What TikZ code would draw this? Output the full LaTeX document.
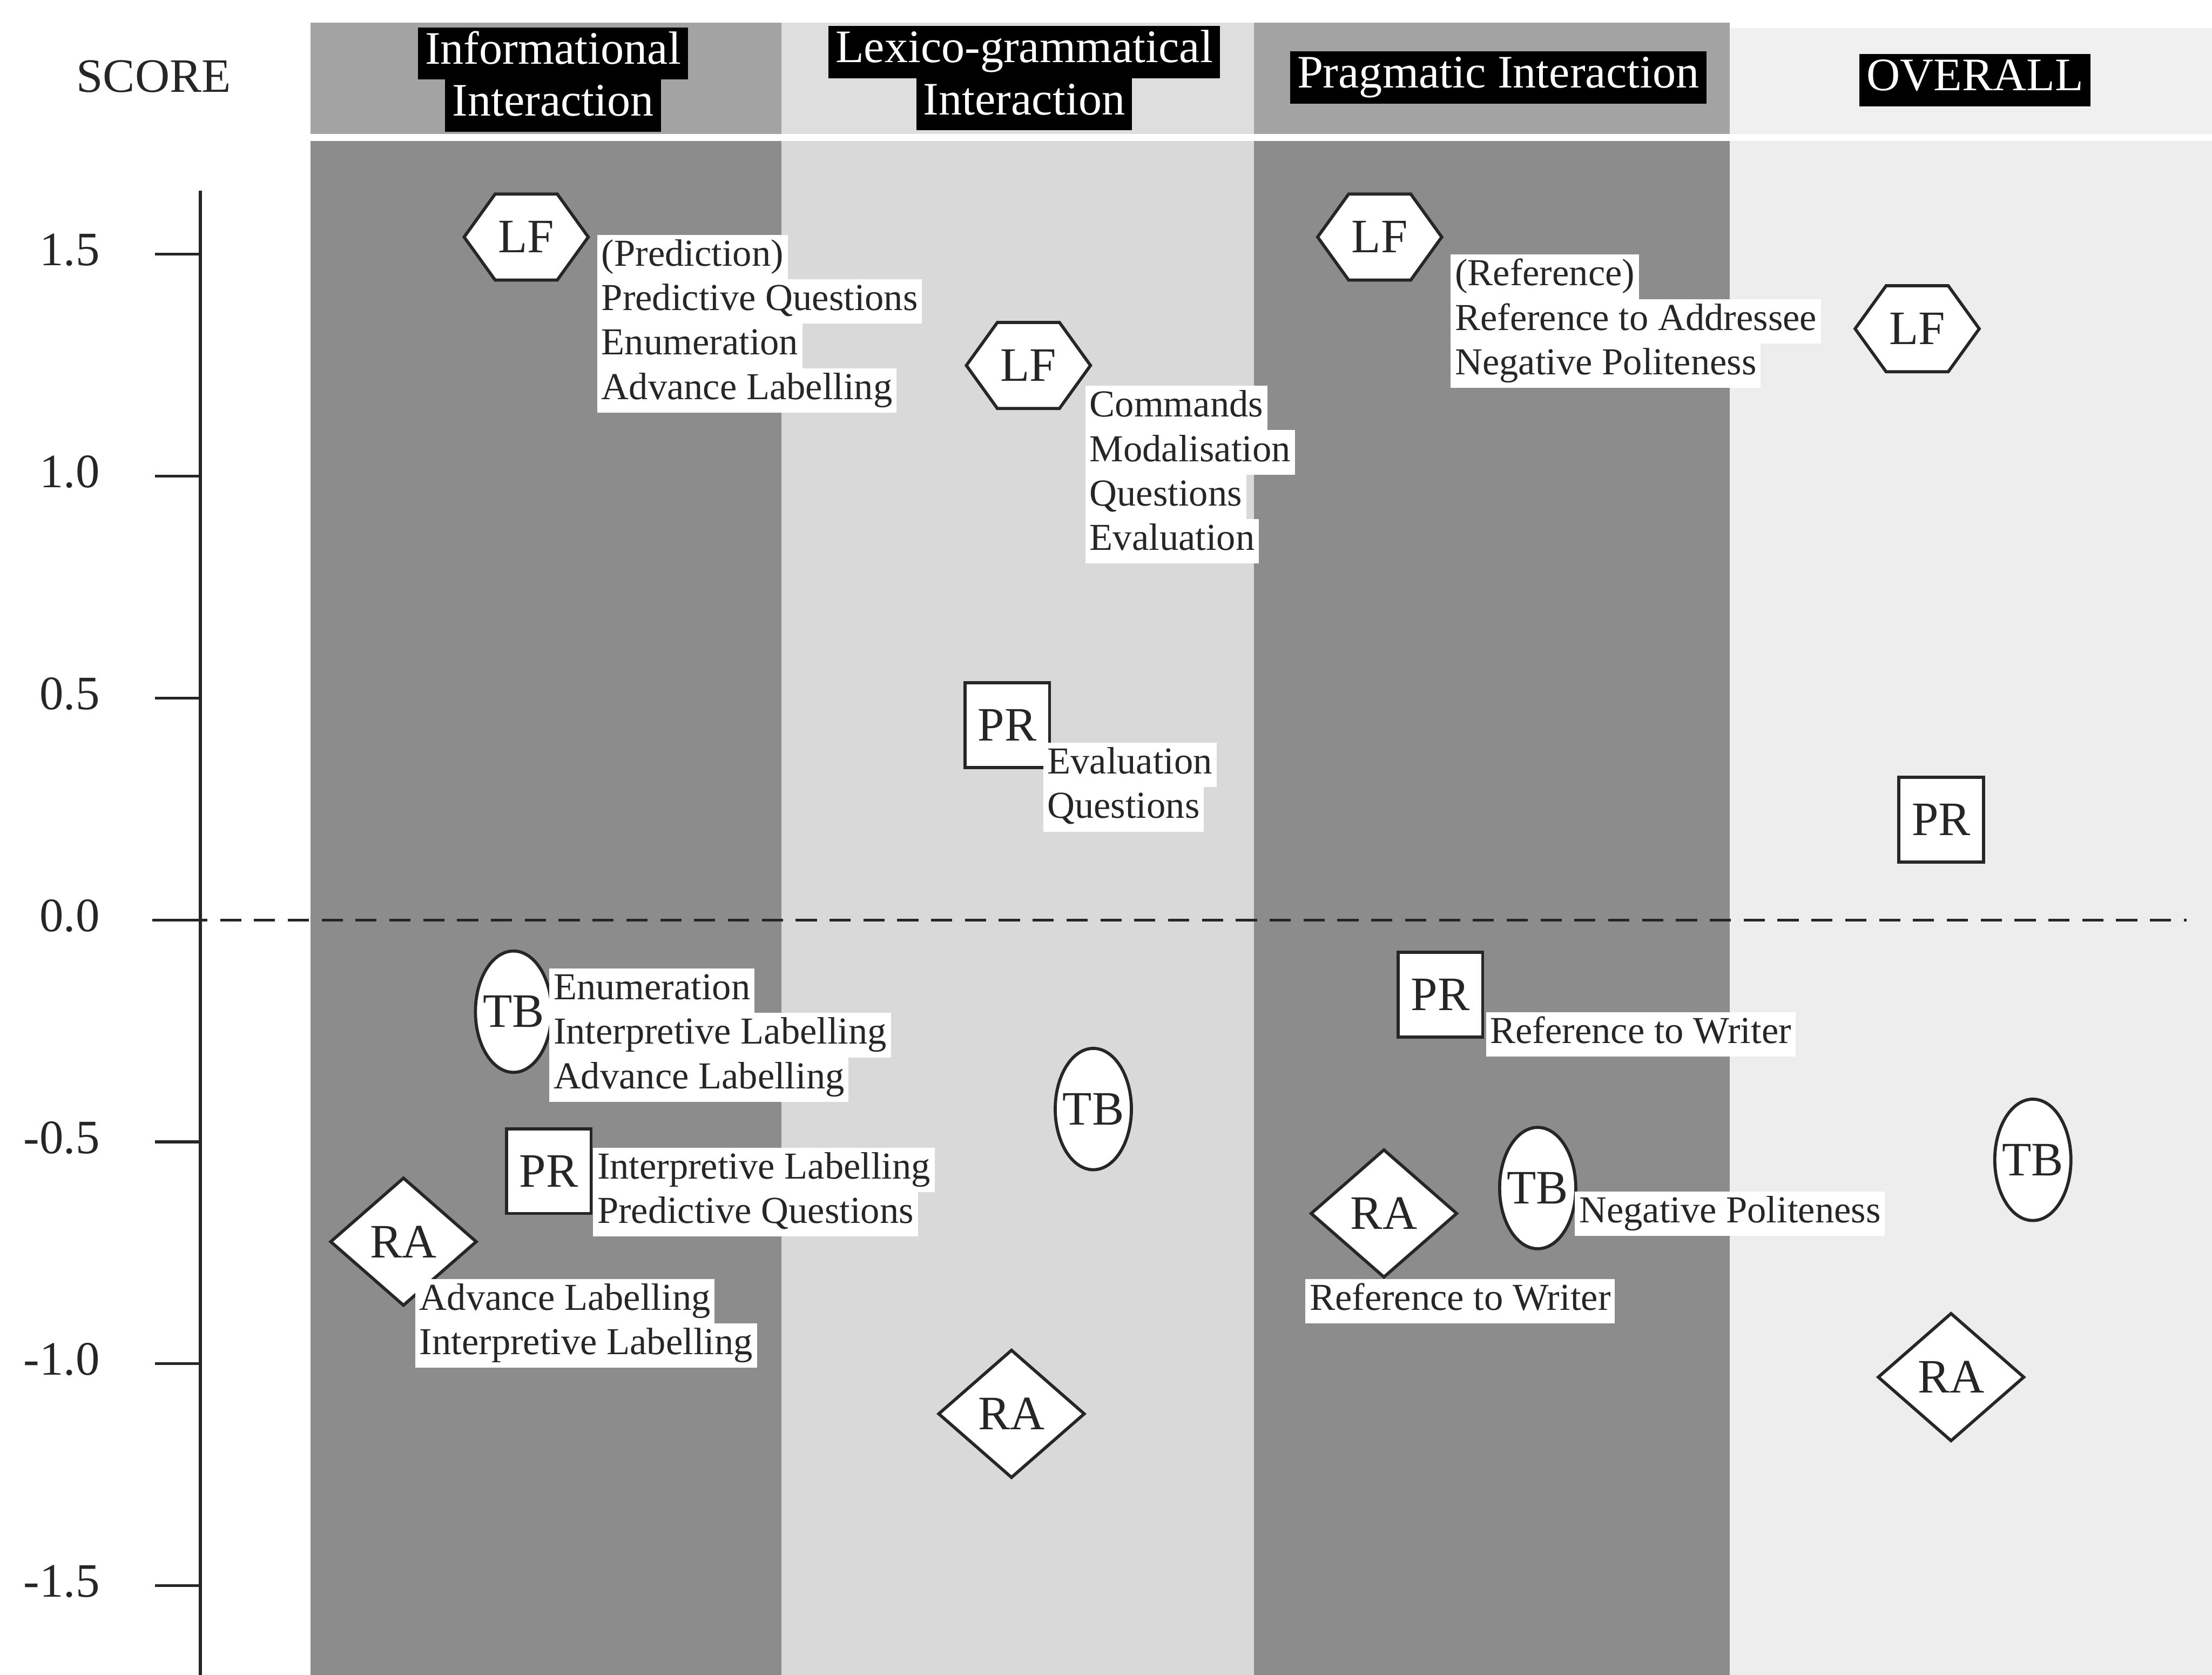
\documentclass[tikz,border=0pt]{standalone}
\usepackage{fontspec}
\setmainfont{Liberation Serif}
\usetikzlibrary{shapes.geometric}

\definecolor{banddark}{gray}{0.55}
\definecolor{banddarkhead}{gray}{0.64}
\definecolor{bandlight}{gray}{0.85}
\definecolor{bandlighthead}{gray}{0.87}
\definecolor{bandpale}{gray}{0.93}
\definecolor{bandpalehead}{gray}{0.94}
\definecolor{ink}{gray}{0.15}

% one line of note text on its own white strip
\newcommand\wl[1]{{\setlength\fboxsep{0pt}\colorbox{white}{\strut\hspace{1.5pt}#1\hspace{1.5pt}}}}
% one line of heading text, white on a black strip
\newcommand\bl[1]{{\setlength\fboxsep{0pt}\colorbox{black}{\strut\hspace{2.5pt}\textcolor{white}{#1}\hspace{2.5pt}}}}

% hexagon with pointed left and right ends: name, x, y, text
\newcommand\hexat[4]{%
  \filldraw[shapeline] (#2,#3) ++(-44,0) -- ++(22,-30.5) -- ++(44,0) -- ++(22,30.5)
    -- ++(-22,30.5) -- ++(-44,0) -- cycle;
  \node[symtext] (#1) at (#2,#3) {#4};}
% upright ellipse: name, x, y, text
\newcommand\ellat[4]{%
  \filldraw[shapeline] (#2,#3) ellipse [x radius=13.5pt, y radius=21.5pt];
  \node[symtext] (#1) at (#2,#3) {#4};}

\begin{document}
\begin{tikzpicture}[x=0.5pt,y=-0.5pt,
  shapeline/.style={draw=ink, fill=white, line width=1.1pt},
  symtext/.style={font=\fontsize{17}{20}\selectfont, text=ink, inner sep=0pt},
  squarebox/.style={shapeline, symtext, rectangle, minimum width=30pt, minimum height=30pt},
  diamondbox/.style={shapeline, symtext, diamond, minimum width=52pt, minimum height=45.5pt},
  notes/.style={anchor=north west, inner sep=0pt, align=left, text=ink,
    font=\fontsize{13.5}{15.75}\selectfont},
  headtext/.style={anchor=north, inner sep=0pt, align=center,
    font=\fontsize{16.5}{18.5}\selectfont},
  ticklabel/.style={anchor=east, inner sep=0pt, text=ink, font=\fontsize{17}{20}\selectfont},
  axisline/.style={draw=ink, line width=1pt},
]
\useasboundingbox (0,0) rectangle (1568,1187);
\fill[white] (0,0) rectangle (1568,1187);

% ---- column bands (heading strip, white gap, body) ----
\fill[banddarkhead]  (220,16)  rectangle (554,95);
\fill[banddark]      (220,100) rectangle (554,1187);
\fill[bandlighthead] (554,16)  rectangle (889,95);
\fill[bandlight]     (554,100) rectangle (889,1187);
\fill[banddarkhead]  (889,16)  rectangle (1226,95);
\fill[banddark]      (889,100) rectangle (1226,1187);
\fill[bandpalehead]  (1226,20) rectangle (1568,95);
\fill[bandpale]      (1226,100) rectangle (1568,1187);

% ---- column headings ----
\node[headtext] (hinfo) at (392,19)  {\bl{Informational}\\\bl{Interaction}};
\node[headtext] (hlex)  at (726,18)  {\bl{Lexico-grammatical}\\\bl{Interaction}};
\node[headtext] (hprag) at (1062,36) {\bl{Pragmatic Interaction}};
\node[headtext] (hall)  at (1400,38) {\bl{OVERALL}};

% ---- score axis ----
\node[ticklabel, anchor=center] (score) at (109,54) {SCORE};
\coordinate (axtop) at (142,135);
\coordinate (axbot) at (142,1187);
\draw[axisline] (axtop) -- (axbot);
\foreach \lab/\yy [count=\i] in {1.5/180.25, 1.0/337.5, 0.5/494.75, 0.0/652,
    -0.5/809.25, -1.0/966.5, -1.5/1123.75} {
  \draw[axisline] (110,\yy) -- (142,\yy);
  \node[ticklabel] (tick\i) at (71,\yy-3) {\lab};
}

% zero line
\coordinate (zl) at (108,652);
\coordinate (zr) at (1550,652);
\draw[draw=ink, line width=1pt, dash pattern=on 7.5pt off 4.5pt] (zl) -- (zr);

% ---- Informational Interaction ----
\hexat{lfinfo}{373}{168}{LF}
\ellat{tbinfo}{364}{717}{TB}
\node[squarebox]  (prinfo) at (389,830) {PR};
\node[diamondbox] (rainfo) at (286,880) {RA};

% ---- Lexico-grammatical Interaction ----
\hexat{lflex}{729}{259}{LF}
\node[squarebox]  (prlex) at (714,514) {PR};
\ellat{tblex}{775}{786}{TB}
\node[diamondbox] (ralex) at (717,1002) {RA};

% ---- Pragmatic Interaction ----
\hexat{lfprag}{978}{168}{LF}
\node[squarebox]  (prprag) at (1021,705) {PR};
\node[diamondbox] (raprag) at (981,860) {RA};
\ellat{tbprag}{1090}{842}{TB}

% ---- Overall ----
\hexat{lfall}{1359}{233}{LF}
\node[squarebox]  (prall) at (1376,581) {PR};
\ellat{tball}{1441}{822}{TB}
\node[diamondbox] (raall) at (1383,976) {RA};

% ---- notes beside the symbols ----
\node[notes] (nlfinfo) at (423,166) {\wl{(Prediction)}\\\wl{Predictive Questions}\\\wl{Enumeration}\\\wl{Advance Labelling}};
\node[notes] (ntbinfo) at (389,686) {\wl{Enumeration}\\\wl{Interpretive Labelling}\\\wl{Advance Labelling}};
\node[notes] (nprinfo) at (420,813) {\wl{Interpretive Labelling}\\\wl{Predictive Questions}};
\node[notes] (nrainfo) at (294,906) {\wl{Advance Labelling}\\\wl{Interpretive Labelling}};

\node[notes] (nlflex) at (769,273) {\wl{Commands}\\\wl{Modalisation}\\\wl{Questions}\\\wl{Evaluation}};
\node[notes] (nprlex) at (739,526) {\wl{Evaluation}\\\wl{Questions}};

\node[notes] (nlfprag) at (1028,180) {\wl{(Reference)}\\\wl{Reference to Addressee}\\\wl{Negative Politeness}};
\node[notes] (nprprag) at (1053,717) {\wl{Reference to Writer}};
\node[notes] (nraprag) at (925,906) {\wl{Reference to Writer}};
\node[notes] (ntbprag) at (1116,844) {\wl{Negative Politeness}};
\end{tikzpicture}
\end{document}
